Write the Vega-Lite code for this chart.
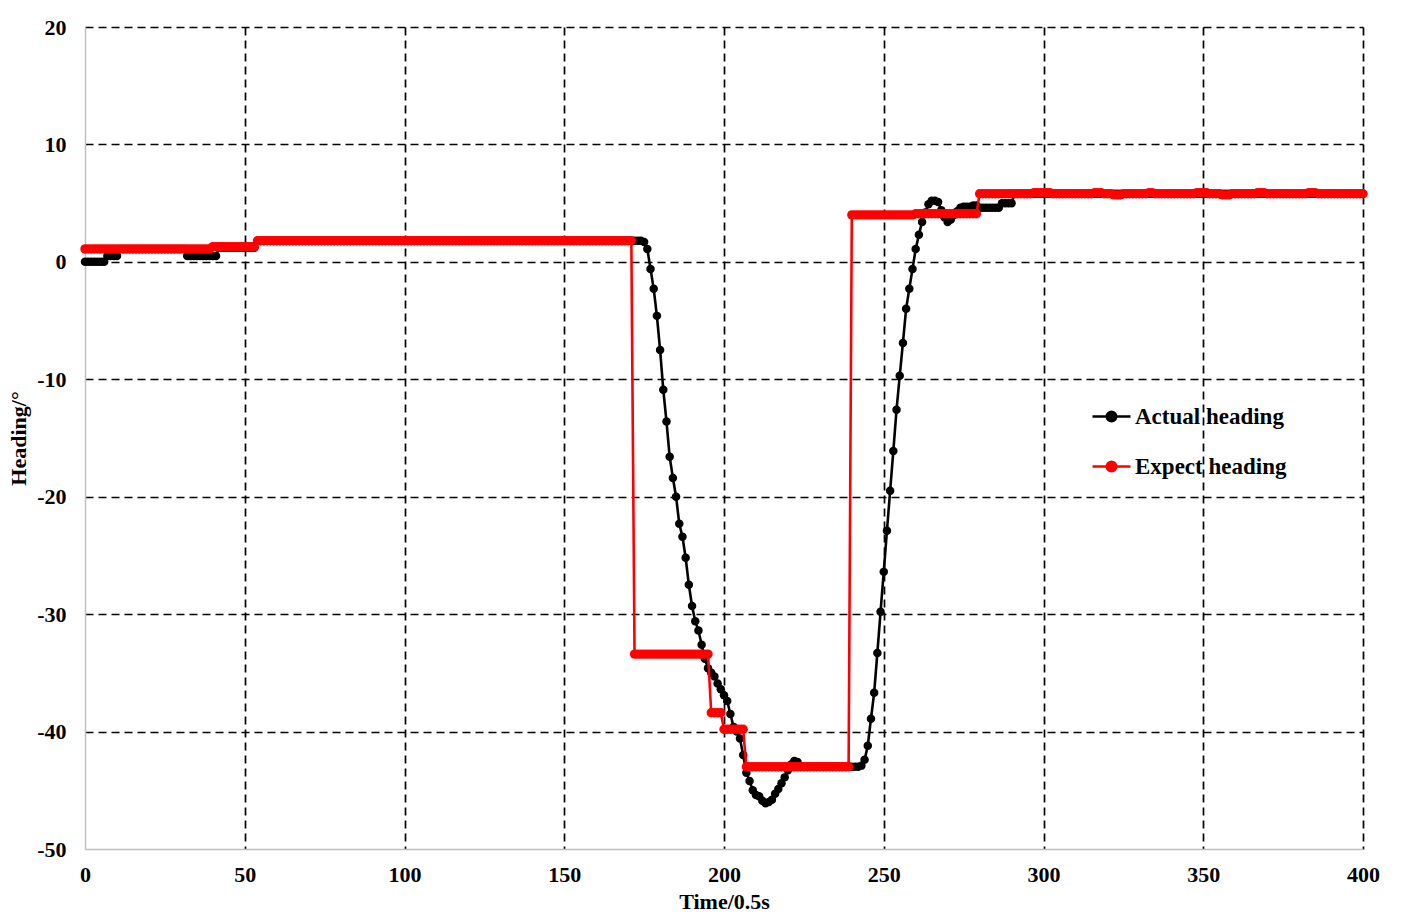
{
"$schema": "https://vega.github.io/schema/vega-lite/v6.json",
"width": 1278,
"height": 822,
"autosize": "none",
"padding": {"left": 85, "top": 27, "right": 42, "bottom": 67},
"background": "white",
"config": {
"view": {"stroke": null},
"font": "Liberation Serif",
"axis": {"labelFont": "Liberation Serif", "labelFontWeight": "bold", "labelFontSize": 22, "labelColor": "black", "labelFlush": false, "labelOverlap": false, "titleFont": "Liberation Serif", "titleFontWeight": "bold", "titleFontSize": 22, "titleColor": "black", "domainColor": "#c0c0c0", "domainWidth": 1.5, "ticks": false, "grid": true, "gridColor": "black", "gridDash": [8, 5], "gridWidth": 1.7}
},
"data": {"values": [
{"t":0,"a":0,"e":1.1},{"t":1,"a":0,"e":1.1},{"t":2,"a":0,"e":1.1},{"t":3,"a":0,"e":1.1},{"t":4,"a":0,"e":1.1},{"t":5,"a":0,"e":1.1},{"t":6,"a":0,"e":1.1},
{"t":7,"a":0.5,"e":1.1},{"t":8,"a":0.5,"e":1.1},{"t":9,"a":0.5,"e":1.1},{"t":10,"a":0.5,"e":1.1},
{"t":11,"a":1.1,"e":1.1},{"t":12,"a":1.1,"e":1.1},{"t":13,"a":1.1,"e":1.1},{"t":14,"a":1.1,"e":1.1},{"t":15,"a":1.1,"e":1.1},{"t":16,"a":1.1,"e":1.1},{"t":17,"a":1.1,"e":1.1},{"t":18,"a":1.1,"e":1.1},{"t":19,"a":1.1,"e":1.1},{"t":20,"a":1.1,"e":1.1},
{"t":21,"a":1.1,"e":1.1},{"t":22,"a":1.1,"e":1.1},{"t":23,"a":1.1,"e":1.1},{"t":24,"a":1.1,"e":1.1},{"t":25,"a":1.1,"e":1.1},{"t":26,"a":1.1,"e":1.1},{"t":27,"a":1.1,"e":1.1},{"t":28,"a":1.1,"e":1.1},{"t":29,"a":1.1,"e":1.1},{"t":30,"a":1.1,"e":1.1},
{"t":31,"a":1.1,"e":1.1},{"t":32,"a":0.5,"e":1.1},{"t":33,"a":0.5,"e":1.1},{"t":34,"a":0.5,"e":1.1},{"t":35,"a":0.5,"e":1.1},{"t":36,"a":0.5,"e":1.1},{"t":37,"a":0.5,"e":1.1},{"t":38,"a":0.5,"e":1.1},{"t":39,"a":0.5,"e":1.1},{"t":40,"a":0.5,"e":1.3},
{"t":41,"a":0.5,"e":1.3},{"t":42,"a":1.2,"e":1.3},{"t":43,"a":1.2,"e":1.3},{"t":44,"a":1.2,"e":1.3},{"t":45,"a":1.2,"e":1.3},{"t":46,"a":1.2,"e":1.3},{"t":47,"a":1.2,"e":1.3},{"t":48,"a":1.2,"e":1.3},{"t":49,"a":1.2,"e":1.3},{"t":50,"a":1.2,"e":1.3},
{"t":51,"a":1.2,"e":1.3},{"t":52,"a":1.2,"e":1.3},{"t":53,"a":1.2,"e":1.3},{"t":54,"a":1.8,"e":1.8},{"t":55,"a":1.8,"e":1.8},{"t":56,"a":1.8,"e":1.8},{"t":57,"a":1.8,"e":1.8},{"t":58,"a":1.8,"e":1.8},{"t":59,"a":1.8,"e":1.8},{"t":60,"a":1.8,"e":1.8},
{"t":61,"a":1.8,"e":1.8},{"t":62,"a":1.8,"e":1.8},{"t":63,"a":1.8,"e":1.8},{"t":64,"a":1.8,"e":1.8},{"t":65,"a":1.8,"e":1.8},{"t":66,"a":1.8,"e":1.8},{"t":67,"a":1.8,"e":1.8},{"t":68,"a":1.8,"e":1.8},{"t":69,"a":1.8,"e":1.8},{"t":70,"a":1.8,"e":1.8},
{"t":71,"a":1.8,"e":1.8},{"t":72,"a":1.8,"e":1.8},{"t":73,"a":1.8,"e":1.8},{"t":74,"a":1.8,"e":1.8},{"t":75,"a":1.8,"e":1.8},{"t":76,"a":1.8,"e":1.8},{"t":77,"a":1.8,"e":1.8},{"t":78,"a":1.8,"e":1.8},{"t":79,"a":1.8,"e":1.8},{"t":80,"a":1.8,"e":1.8},
{"t":81,"a":1.8,"e":1.8},{"t":82,"a":1.8,"e":1.8},{"t":83,"a":1.8,"e":1.8},{"t":84,"a":1.8,"e":1.8},{"t":85,"a":1.8,"e":1.8},{"t":86,"a":1.8,"e":1.8},{"t":87,"a":1.8,"e":1.8},{"t":88,"a":1.8,"e":1.8},{"t":89,"a":1.8,"e":1.8},{"t":90,"a":1.8,"e":1.8},
{"t":91,"a":1.8,"e":1.8},{"t":92,"a":1.8,"e":1.8},{"t":93,"a":1.8,"e":1.8},{"t":94,"a":1.8,"e":1.8},{"t":95,"a":1.8,"e":1.8},{"t":96,"a":1.8,"e":1.8},{"t":97,"a":1.8,"e":1.8},{"t":98,"a":1.8,"e":1.8},{"t":99,"a":1.8,"e":1.8},{"t":100,"a":1.8,"e":1.8},
{"t":101,"a":1.8,"e":1.8},{"t":102,"a":1.8,"e":1.8},{"t":103,"a":1.8,"e":1.8},{"t":104,"a":1.8,"e":1.8},{"t":105,"a":1.8,"e":1.8},{"t":106,"a":1.8,"e":1.8},{"t":107,"a":1.8,"e":1.8},{"t":108,"a":1.8,"e":1.8},{"t":109,"a":1.8,"e":1.8},{"t":110,"a":1.8,"e":1.8},
{"t":111,"a":1.8,"e":1.8},{"t":112,"a":1.8,"e":1.8},{"t":113,"a":1.8,"e":1.8},{"t":114,"a":1.8,"e":1.8},{"t":115,"a":1.8,"e":1.8},{"t":116,"a":1.8,"e":1.8},{"t":117,"a":1.8,"e":1.8},{"t":118,"a":1.8,"e":1.8},{"t":119,"a":1.8,"e":1.8},{"t":120,"a":1.8,"e":1.8},
{"t":121,"a":1.8,"e":1.8},{"t":122,"a":1.8,"e":1.8},{"t":123,"a":1.8,"e":1.8},{"t":124,"a":1.8,"e":1.8},{"t":125,"a":1.8,"e":1.8},{"t":126,"a":1.8,"e":1.8},{"t":127,"a":1.8,"e":1.8},{"t":128,"a":1.8,"e":1.8},{"t":129,"a":1.8,"e":1.8},{"t":130,"a":1.8,"e":1.8},
{"t":131,"a":1.8,"e":1.8},{"t":132,"a":1.8,"e":1.8},{"t":133,"a":1.8,"e":1.8},{"t":134,"a":1.8,"e":1.8},{"t":135,"a":1.8,"e":1.8},{"t":136,"a":1.8,"e":1.8},{"t":137,"a":1.8,"e":1.8},{"t":138,"a":1.8,"e":1.8},{"t":139,"a":1.8,"e":1.8},{"t":140,"a":1.8,"e":1.8},
{"t":141,"a":1.8,"e":1.8},{"t":142,"a":1.8,"e":1.8},{"t":143,"a":1.8,"e":1.8},{"t":144,"a":1.8,"e":1.8},{"t":145,"a":1.8,"e":1.8},{"t":146,"a":1.8,"e":1.8},{"t":147,"a":1.8,"e":1.8},{"t":148,"a":1.8,"e":1.8},{"t":149,"a":1.8,"e":1.8},{"t":150,"a":1.8,"e":1.8},
{"t":151,"a":1.8,"e":1.8},{"t":152,"a":1.8,"e":1.8},{"t":153,"a":1.8,"e":1.8},{"t":154,"a":1.8,"e":1.8},{"t":155,"a":1.8,"e":1.8},{"t":156,"a":1.8,"e":1.8},{"t":157,"a":1.8,"e":1.8},{"t":158,"a":1.8,"e":1.8},{"t":159,"a":1.8,"e":1.8},{"t":160,"a":1.8,"e":1.8},
{"t":161,"a":1.8,"e":1.8},{"t":162,"a":1.8,"e":1.8},{"t":163,"a":1.8,"e":1.8},{"t":164,"a":1.8,"e":1.8},{"t":165,"a":1.8,"e":1.8},{"t":166,"a":1.8,"e":1.8},{"t":167,"a":1.8,"e":1.8},{"t":168,"a":1.8,"e":1.8},{"t":169,"a":1.8,"e":1.8},{"t":170,"a":1.8,"e":1.8},
{"t":171,"a":1.8,"e":1.8},{"t":172,"a":1.8,"e":-33.4},{"t":173,"a":1.8,"e":-33.4},{"t":174,"a":1.8,"e":-33.4},{"t":175,"a":1.7,"e":-33.4},{"t":176,"a":1.1,"e":-33.4},{"t":177,"a":-0.6,"e":-33.4},{"t":178,"a":-2.3,"e":-33.4},{"t":179,"a":-4.6,"e":-33.4},{"t":180,"a":-7.5,"e":-33.4},
{"t":181,"a":-10.9,"e":-33.4},{"t":182,"a":-13.6,"e":-33.4},{"t":183,"a":-16.6,"e":-33.4},{"t":184,"a":-18.4,"e":-33.4},{"t":185,"a":-20.0,"e":-33.4},{"t":186,"a":-22.3,"e":-33.4},{"t":187,"a":-23.4,"e":-33.4},{"t":188,"a":-25.2,"e":-33.4},{"t":189,"a":-27.5,"e":-33.4},{"t":190,"a":-29.3,"e":-33.4},
{"t":191,"a":-30.6,"e":-33.4},{"t":192,"a":-31.4,"e":-33.4},{"t":193,"a":-32.6,"e":-33.4},{"t":194,"a":-33.8,"e":-33.4},{"t":195,"a":-34.6,"e":-33.4},{"t":196,"a":-35.0,"e":-38.4},{"t":197,"a":-35.3,"e":-38.4},{"t":198,"a":-35.9,"e":-38.4},{"t":199,"a":-36.4,"e":-38.4},{"t":200,"a":-36.9,"e":-39.8},
{"t":201,"a":-37.4,"e":-39.8},{"t":202,"a":-38.5,"e":-39.8},{"t":203,"a":-39.6,"e":-39.8},{"t":204,"a":-40.0,"e":-39.8},{"t":205,"a":-40.6,"e":-39.8},{"t":206,"a":-42.0,"e":-39.8},{"t":207,"a":-43.5,"e":-43.0},{"t":208,"a":-44.2,"e":-43.0},{"t":209,"a":-45.0,"e":-43.0},{"t":210,"a":-45.4,"e":-43.0},
{"t":211,"a":-45.5,"e":-43.0},{"t":212,"a":-45.9,"e":-43.0},{"t":213,"a":-46.1,"e":-43.0},{"t":214,"a":-46.0,"e":-43.0},{"t":215,"a":-45.8,"e":-43.0},{"t":216,"a":-45.3,"e":-43.0},{"t":217,"a":-44.9,"e":-43.0},{"t":218,"a":-44.4,"e":-43.0},{"t":219,"a":-43.9,"e":-43.0},{"t":220,"a":-43.3,"e":-43.0},
{"t":221,"a":-42.8,"e":-43.0},{"t":222,"a":-42.5,"e":-43.0},{"t":223,"a":-42.6,"e":-43.0},{"t":224,"a":-43.0,"e":-43.0},{"t":225,"a":-43.0,"e":-43.0},{"t":226,"a":-43.0,"e":-43.0},{"t":227,"a":-43.0,"e":-43.0},{"t":228,"a":-43.0,"e":-43.0},{"t":229,"a":-43.0,"e":-43.0},{"t":230,"a":-43.0,"e":-43.0},
{"t":231,"a":-43.0,"e":-43.0},{"t":232,"a":-43.0,"e":-43.0},{"t":233,"a":-43.0,"e":-43.0},{"t":234,"a":-43.0,"e":-43.0},{"t":235,"a":-43.0,"e":-43.0},{"t":236,"a":-43.0,"e":-43.0},{"t":237,"a":-43.0,"e":-43.0},{"t":238,"a":-43.0,"e":-43.0},{"t":239,"a":-43.0,"e":-43.0},{"t":240,"a":-43.0,"e":4.0},
{"t":241,"a":-43.0,"e":4.0},{"t":242,"a":-43.0,"e":4.0},{"t":243,"a":-42.9,"e":4.0},{"t":244,"a":-42.4,"e":4.0},{"t":245,"a":-41.2,"e":4.0},{"t":246,"a":-38.9,"e":4.0},{"t":247,"a":-36.7,"e":4.0},{"t":248,"a":-33.3,"e":4.0},{"t":249,"a":-29.8,"e":4.0},{"t":250,"a":-26.4,"e":4.0},
{"t":251,"a":-22.9,"e":4.0},{"t":252,"a":-19.5,"e":4.0},{"t":253,"a":-16.1,"e":4.0},{"t":254,"a":-12.6,"e":4.0},{"t":255,"a":-9.7,"e":4.0},{"t":256,"a":-6.9,"e":4.0},{"t":257,"a":-4.0,"e":4.0},{"t":258,"a":-2.3,"e":4.0},{"t":259,"a":-0.6,"e":4.0},{"t":260,"a":1.1,"e":4.1},
{"t":261,"a":2.3,"e":4.1},{"t":262,"a":3.4,"e":4.1},{"t":263,"a":4.2,"e":4.1},{"t":264,"a":4.9,"e":4.1},{"t":265,"a":5.2,"e":4.1},{"t":266,"a":5.2,"e":4.1},{"t":267,"a":5.1,"e":4.1},{"t":268,"a":4.4,"e":4.1},{"t":269,"a":3.8,"e":4.1},{"t":270,"a":3.4,"e":4.1},
{"t":271,"a":3.6,"e":4.1},{"t":272,"a":4.0,"e":4.1},{"t":273,"a":4.3,"e":4.1},{"t":274,"a":4.6,"e":4.1},{"t":275,"a":4.7,"e":4.1},{"t":276,"a":4.7,"e":4.1},{"t":277,"a":4.7,"e":4.1},{"t":278,"a":4.8,"e":4.1},{"t":279,"a":4.8,"e":4.1},{"t":280,"a":4.6,"e":5.8},
{"t":281,"a":4.6,"e":5.8},{"t":282,"a":4.6,"e":5.8},{"t":283,"a":4.6,"e":5.8},{"t":284,"a":4.6,"e":5.8},{"t":285,"a":4.6,"e":5.8},{"t":286,"a":4.6,"e":5.8},{"t":287,"a":5.0,"e":5.8},{"t":288,"a":5.0,"e":5.8},{"t":289,"a":5.0,"e":5.8},{"t":290,"a":5.0,"e":5.8},
{"t":291,"a":5.8,"e":5.8},{"t":292,"a":5.8,"e":5.8},{"t":293,"a":5.8,"e":5.8},{"t":294,"a":5.8,"e":5.8},{"t":295,"a":5.8,"e":5.8},{"t":296,"a":5.8,"e":5.8},{"t":297,"a":5.8,"e":5.9},{"t":298,"a":5.8,"e":5.9},{"t":299,"a":5.8,"e":5.9},{"t":300,"a":5.8,"e":5.9},
{"t":301,"a":5.8,"e":5.9},{"t":302,"a":5.8,"e":5.9},{"t":303,"a":5.8,"e":5.8},{"t":304,"a":5.8,"e":5.8},{"t":305,"a":5.8,"e":5.8},{"t":306,"a":5.8,"e":5.8},{"t":307,"a":5.8,"e":5.8},{"t":308,"a":5.8,"e":5.8},{"t":309,"a":5.8,"e":5.8},{"t":310,"a":5.8,"e":5.8},
{"t":311,"a":5.8,"e":5.8},{"t":312,"a":5.8,"e":5.8},{"t":313,"a":5.8,"e":5.8},{"t":314,"a":5.8,"e":5.8},{"t":315,"a":5.8,"e":5.8},{"t":316,"a":5.8,"e":5.9},{"t":317,"a":5.8,"e":5.9},{"t":318,"a":5.8,"e":5.9},{"t":319,"a":5.8,"e":5.8},{"t":320,"a":5.8,"e":5.8},
{"t":321,"a":5.8,"e":5.8},{"t":322,"a":5.8,"e":5.7},{"t":323,"a":5.8,"e":5.7},{"t":324,"a":5.8,"e":5.7},{"t":325,"a":5.8,"e":5.8},{"t":326,"a":5.8,"e":5.8},{"t":327,"a":5.8,"e":5.8},{"t":328,"a":5.8,"e":5.8},{"t":329,"a":5.8,"e":5.8},{"t":330,"a":5.8,"e":5.8},
{"t":331,"a":5.8,"e":5.8},{"t":332,"a":5.8,"e":5.8},{"t":333,"a":5.8,"e":5.9},{"t":334,"a":5.8,"e":5.9},{"t":335,"a":5.8,"e":5.8},{"t":336,"a":5.8,"e":5.8},{"t":337,"a":5.8,"e":5.8},{"t":338,"a":5.8,"e":5.8},{"t":339,"a":5.8,"e":5.8},{"t":340,"a":5.8,"e":5.8},
{"t":341,"a":5.8,"e":5.8},{"t":342,"a":5.8,"e":5.8},{"t":343,"a":5.8,"e":5.8},{"t":344,"a":5.8,"e":5.8},{"t":345,"a":5.8,"e":5.8},{"t":346,"a":5.8,"e":5.8},{"t":347,"a":5.8,"e":5.8},{"t":348,"a":5.8,"e":5.9},{"t":349,"a":5.8,"e":5.9},{"t":350,"a":5.8,"e":5.9},
{"t":351,"a":5.8,"e":5.9},{"t":352,"a":5.8,"e":5.8},{"t":353,"a":5.8,"e":5.8},{"t":354,"a":5.8,"e":5.8},{"t":355,"a":5.8,"e":5.8},{"t":356,"a":5.8,"e":5.7},{"t":357,"a":5.8,"e":5.7},{"t":358,"a":5.8,"e":5.7},{"t":359,"a":5.8,"e":5.8},{"t":360,"a":5.8,"e":5.8},
{"t":361,"a":5.8,"e":5.8},{"t":362,"a":5.8,"e":5.8},{"t":363,"a":5.8,"e":5.8},{"t":364,"a":5.8,"e":5.8},{"t":365,"a":5.8,"e":5.8},{"t":366,"a":5.8,"e":5.8},{"t":367,"a":5.8,"e":5.9},{"t":368,"a":5.8,"e":5.9},{"t":369,"a":5.8,"e":5.9},{"t":370,"a":5.8,"e":5.8},
{"t":371,"a":5.8,"e":5.8},{"t":372,"a":5.8,"e":5.8},{"t":373,"a":5.8,"e":5.8},{"t":374,"a":5.8,"e":5.8},{"t":375,"a":5.8,"e":5.8},{"t":376,"a":5.8,"e":5.8},{"t":377,"a":5.8,"e":5.8},{"t":378,"a":5.8,"e":5.8},{"t":379,"a":5.8,"e":5.8},{"t":380,"a":5.8,"e":5.8},
{"t":381,"a":5.8,"e":5.8},{"t":382,"a":5.8,"e":5.8},{"t":383,"a":5.8,"e":5.9},{"t":384,"a":5.8,"e":5.9},{"t":385,"a":5.8,"e":5.9},{"t":386,"a":5.8,"e":5.8},{"t":387,"a":5.8,"e":5.8},{"t":388,"a":5.8,"e":5.8},{"t":389,"a":5.8,"e":5.8},{"t":390,"a":5.8,"e":5.8},
{"t":391,"a":5.8,"e":5.8},{"t":392,"a":5.8,"e":5.8},{"t":393,"a":5.8,"e":5.8},{"t":394,"a":5.8,"e":5.8},{"t":395,"a":5.8,"e":5.8},{"t":396,"a":5.8,"e":5.8},{"t":397,"a":5.8,"e":5.8},{"t":398,"a":5.8,"e":5.8},{"t":399,"a":5.8,"e":5.8},{"t":400,"a":5.8,"e":5.8}
]},
"encoding": {
"x": {"field": "t", "type": "quantitative", "scale": {"domain": [0, 400], "nice": false, "zero": false},
 "axis": {"values": [0, 50, 100, 150, 200, 250, 300, 350, 400], "title": "Time/0.5s", "labelPadding": 15, "titlePadding": 6,
  "gridOpacity": {"condition": {"test": "datum.value == 0", "value": 0}, "value": 1}}}
},
"layer": [
{"mark": {"type": "line", "strokeWidth": 2.6, "point": {"filled": true, "size": 72}},
 "encoding": {"y": {"field": "a", "type": "quantitative", "scale": {"domain": [-50, 20], "nice": false, "zero": false},
   "axis": {"values": [-50, -40, -30, -20, -10, 0, 10, 20], "title": "Heading/°", "labelPadding": 19, "titlePadding": 6,
    "labelExpr": "toString(datum.value)",
    "gridOpacity": {"condition": {"test": "datum.value == -50", "value": 0}, "value": 1}}},
  "color": {"datum": "Actual heading", "type": "nominal",
   "scale": {"domain": ["Actual heading", "Expect heading"], "range": ["#000000", "#ff0000"]},
   "legend": {"title": null, "orient": "none", "legendX": 1006, "legendY": 369, "rowPadding": 17,
    "labelFont": "Liberation Serif", "labelFontWeight": "bold", "labelFontSize": 23, "labelColor": "black", "labelOffset": 3,
    "symbolType": "M-1,0H1M-0.25,0A0.25,0.25,0,1,0,0.25,0A0.25,0.25,0,1,0,-0.25,0Z", "symbolSize": 1444, "symbolStrokeWidth": 2.5,
    "encode": {"symbols": {"update": {"fill": {"scale": "color", "field": "value"}, "stroke": {"scale": "color", "field": "value"}, "strokeWidth": {"value": 2.5}, "opacity": {"value": 1}}}}}}
 }},
{"mark": {"type": "line", "strokeWidth": 2.6, "point": {"filled": true, "size": 88}},
 "encoding": {"y": {"field": "e", "type": "quantitative"},
  "color": {"datum": "Expect heading", "type": "nominal"}
 }}
]
}
